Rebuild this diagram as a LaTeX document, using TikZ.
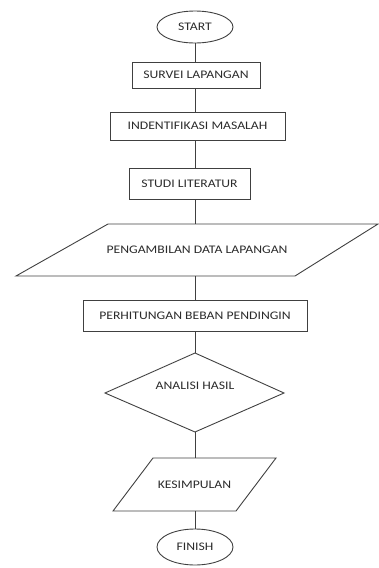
\documentclass[tikz,border=0pt]{standalone}
\usepackage{fontspec}
\setmainfont{Carlito}[FakeStretch=1.18]
\usetikzlibrary{shapes.geometric}
\definecolor{ln}{HTML}{404040}
\definecolor{tx}{HTML}{2B2B2B}
\begin{document}
\begin{tikzpicture}[x=1pt,y=-1pt,
  every node/.style={font=\fontsize{11.6}{13}\selectfont, text=tx, inner sep=0pt},
  shp/.style={draw=ln, line width=0.9pt},
  procbox/.style={shp, rectangle, minimum width=#1},
  term/.style={shp, ellipse, minimum width=76, minimum height=32},
  conn/.style={draw=ln, line width=0.9pt}]
\useasboundingbox (0,0) rectangle (379,568);
\node[term] (start) at (195,27) {START};
\node[procbox=128, minimum height=26] (survei) at (196,75) {SURVEI LAPANGAN};
\node[procbox=175, minimum height=28] (ident) at (197.5,126) {INDENTIFIKASI MASALAH};
\node[procbox=121, minimum height=31] (studi) at (189.5,183.5) {STUDI LITERATUR};
% parallelogram 1
\coordinate (p1a) at (108,224);
\coordinate (p1b) at (378,224);
\coordinate (p1c) at (295,276);
\coordinate (p1d) at (16,276);
\draw[shp] (p1a) -- (p1b) -- (p1c) -- (p1d) -- cycle;
\node (ambil) at (197,250) {PENGAMBILAN DATA LAPANGAN};
\coordinate (ambiltop) at (195,224);
\coordinate (ambilbot) at (195,276);
\node[procbox=224, minimum height=31] (hitung) at (195,315.5) {PERHITUNGAN BEBAN PENDINGIN};
% diamond
\coordinate (dt) at (195,353);
\coordinate (dr) at (284,393);
\coordinate (db) at (195,432);
\coordinate (dl) at (105,393);
\draw[shp] (dt) -- (dr) -- (db) -- (dl) -- cycle;
\node (analisi) at (195,386) {ANALISI HASIL};
% parallelogram 2
\coordinate (p2a) at (153,458);
\coordinate (p2b) at (276,458);
\coordinate (p2c) at (236,511);
\coordinate (p2d) at (113,511);
\draw[shp] (p2a) -- (p2b) -- (p2c) -- (p2d) -- cycle;
\node (kesim) at (194.5,484.5) {KESIMPULAN};
\coordinate (kestop) at (195,458);
\coordinate (kesbot) at (195,511);
\node[term, minimum height=36] (finish) at (195,547) {FINISH};
% connectors
\draw[conn] (start.south) -- (start.south |- survei.north);
\draw[conn] (survei.south -| start) -- (ident.north -| start);
\draw[conn] (ident.south -| start) -- (studi.north -| start);
\draw[conn] (studi.south -| start) -- (ambiltop);
\draw[conn] (ambilbot) -- (hitung.north -| start);
\draw[conn] (hitung.south -| start) -- (dt);
\draw[conn] (db) -- (kestop);
\draw[conn] (kesbot) -- (finish.north);
\end{tikzpicture}
\end{document}
